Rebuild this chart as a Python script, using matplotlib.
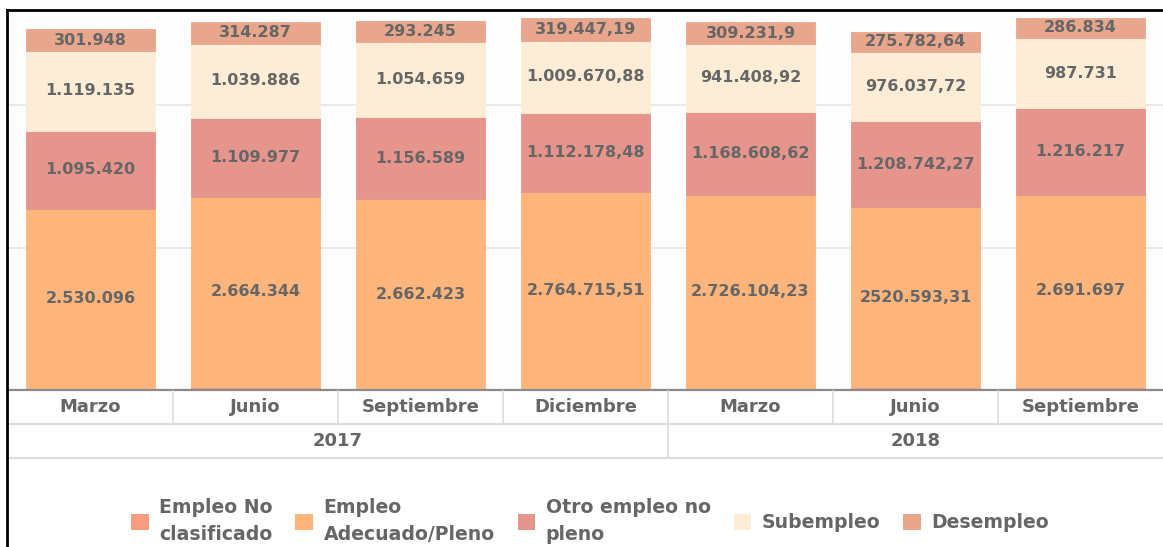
import matplotlib
matplotlib.use("Agg")
import matplotlib.pyplot as plt
from matplotlib.patches import Patch
from matplotlib.lines import Line2D
from matplotlib.transforms import blended_transform_factory
import numpy as np

# ---------------- data ----------------
months = ["Marzo", "Junio", "Septiembre", "Diciembre", "Marzo", "Junio", "Septiembre"]
years = ["2017", "2018"]
year_span = [4, 3]  # number of quarters per year

no_clasificado = [15000, 45000, 15000, 15000, 15000, 45000, 45000]
adecuado = [2530096, 2664344, 2662423, 2764715.51, 2726104.23, 2520593.31, 2691697]
otro = [1095420, 1109977, 1156589, 1112178.48, 1168608.62, 1208742.27, 1216217]
subempleo = [1119135, 1039886, 1054659, 1009670.88, 941408.92, 976037.72, 987731]
desempleo = [301948, 314287, 293245, 319447.19, 309231.9, 275782.64, 286834]

adecuado_lbl = ["2.530.096", "2.664.344", "2.662.423", "2.764.715,51", "2.726.104,23", "2520.593,31", "2.691.697"]
otro_lbl = ["1.095.420", "1.109.977", "1.156.589", "1.112.178,48", "1.168.608,62", "1.208.742,27", "1.216.217"]
sub_lbl = ["1.119.135", "1.039.886", "1.054.659", "1.009.670,88", "941.408,92", "976.037,72", "987.731"]
des_lbl = ["301.948", "314.287", "293.245", "319.447,19", "309.231,9", "275.782,64", "286.834"]

series_names = ["Empleo No\nclasificado", "Empleo\nAdecuado/Pleno", "Otro empleo no\npleno", "Subempleo", "Desempleo"]
colors = ["#F79E80", "#FDB57B", "#E5958C", "#FDEDD6", "#E8A78C"]

# ---------------- figure ----------------
W, H = 1163, 547
fig = plt.figure(figsize=(W / 100, H / 100), dpi=100)
fig.patch.set_facecolor("white")

def fx(px):
    return px / W

def fy(py):
    return 1 - py / H

ax_left, ax_right, ax_top, ax_bottom = 8, 1163, 10, 390
ax = fig.add_axes([fx(ax_left), fy(ax_bottom), fx(ax_right - ax_left), fy(ax_top) - fy(ax_bottom)])
ax.set_facecolor("#FDFDFD")

x = np.arange(len(months))
bw = 0.785
text_color = "#666666"
FONT = "DejaVu Sans"

bottom = np.zeros(len(months))
stacks = [no_clasificado, adecuado, otro, subempleo, desempleo]
labels = [None, adecuado_lbl, otro_lbl, sub_lbl, des_lbl]
for vals, col, lbls in zip(stacks, colors, labels):
    vals = np.array(vals, dtype=float)
    ax.bar(x, vals, bw, bottom=bottom, color=col, edgecolor=col, linewidth=0.6, zorder=3)
    if lbls is not None:
        for xi, b, v, t in zip(x, bottom, vals, lbls):
            ax.text(xi, b + v / 2, t, ha="center", va="center", fontsize=11.5,
                    fontweight="bold", color=text_color, family=FONT, zorder=4)
    bottom += vals

ax.set_xlim(-0.5, len(months) - 0.5)
ax.set_ylim(0, 5.335e6)
ax.set_yticks([2e6, 4e6])
ax.yaxis.grid(True, color="#E6E6E6", linewidth=1.2, zorder=0)
ax.tick_params(left=False, bottom=False, labelleft=False, labelbottom=False)
for s in ["top", "right", "left"]:
    ax.spines[s].set_visible(False)
ax.spines["bottom"].set_color("#8A8A8A")
ax.spines["bottom"].set_linewidth(1.6)
ax.spines["bottom"].set_zorder(5)

# ---------------- category axis (two levels) ----------------
tr = blended_transform_factory(ax.transData, fig.transFigure)
row1_top, row1_bot, row2_bot = 391, 424, 458
for xi, m in zip(x, months):
    ax.text(xi, fy((row1_top + row1_bot) / 2), m, transform=tr, ha="center", va="center",
            fontsize=13, fontweight="bold", color=text_color, family=FONT, clip_on=False)
for xi in x[:-1]:
    fig.add_artist(Line2D([xi + 0.5, xi + 0.5], [fy(row1_top), fy(row1_bot)], transform=tr,
                          color="#DDDDDD", lw=1.2))
start = 0
for yr, n in zip(years, year_span):
    cx = (start - 0.5 + start + n - 0.5) / 2
    ax.text(cx, fy((row1_bot + row2_bot) / 2), yr, transform=tr, ha="center", va="center",
            fontsize=13, fontweight="bold", color=text_color, family=FONT, clip_on=False)
    if start > 0:
        fig.add_artist(Line2D([start - 0.5, start - 0.5], [fy(row1_bot), fy(row2_bot)], transform=tr,
                              color="#DDDDDD", lw=1.2))
    start += n
for py in (row1_bot, row2_bot):
    fig.add_artist(Line2D([fx(ax_left), 1], [fy(py), fy(py)], transform=fig.transFigure,
                          color="#DDDDDD", lw=1.5))

# ---------------- legend ----------------
handles = [Patch(facecolor=c, edgecolor="none") for c in colors]
leg = fig.legend(handles, series_names, loc="center", bbox_to_anchor=(fx(590), fy(521)),
                 ncol=5, frameon=False, handlelength=0.95, handleheight=0.95,
                 handletextpad=0.55, columnspacing=1.2,
                 prop={"family": FONT, "weight": "bold", "size": 13.6})
for t in leg.get_texts():
    t.set_color(text_color)
    t.set_linespacing(1.5)

# ---------------- outer frame (left and top) ----------------
fig.add_artist(Line2D([fx(7), fx(7)], [0, fy(10)], transform=fig.transFigure, color="black", lw=2))
fig.add_artist(Line2D([fx(7), 1], [fy(10), fy(10)], transform=fig.transFigure, color="black", lw=2))

fig.savefig("out.png", dpi=100)
